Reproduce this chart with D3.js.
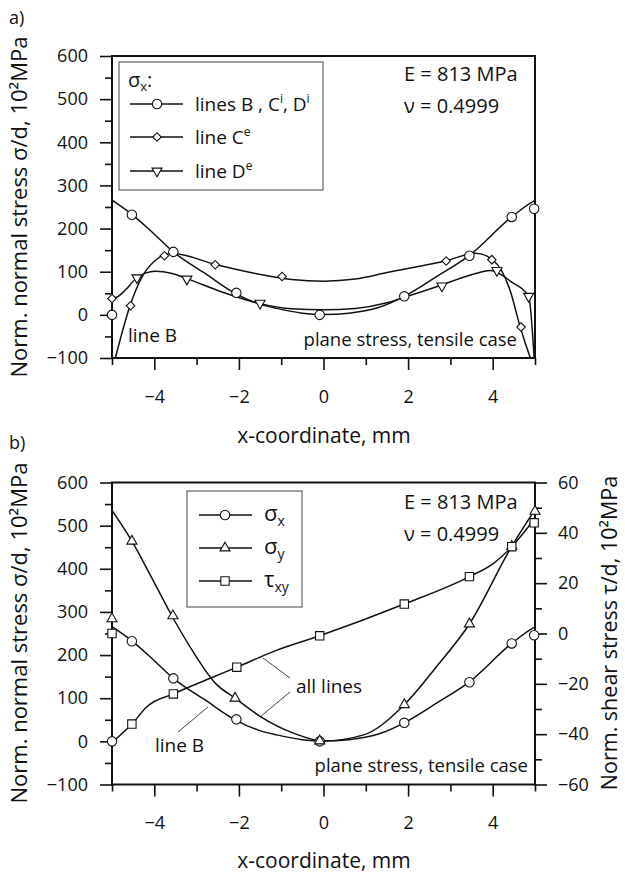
<!DOCTYPE html>
<html>
<head>
<meta charset="utf-8">
<script src="https://cdn.jsdelivr.net/npm/d3@7"></script>
<style>
  body { margin: 0; background: #fff; }
  text { font-family: "Open Sans", "DejaVu Sans", sans-serif; fill: #111; }
</style>
</head>
<body>
<script>
// ---- data ----
const xMajor = [-4, -2, 0, 2, 4];
const xMinor = [-5, -3, -1, 1, 3, 5];
const yMajor = [-100, 0, 100, 200, 300, 400, 500, 600];
const yMinor = [-50, 50, 150, 250, 350, 450, 550];
const tauMajor = [-60, -40, -20, 0, 20, 40, 60];
const tauMinor = [-50, -30, -10, 10, 30, 50];

// line B (sigma_x), used in both panels
const curveB = [[-5, 266], [-4.53, 233], [-4.0, 187], [-3.55, 146], [-2.8, 96], [-2.09, 50], [-1.54, 26],
  [-1.1, 15], [-0.5, 4], [0, 1], [0.6, 4], [1.3, 17], [1.91, 43], [2.68, 89], [3.45, 138], [4.45, 227], [4.96, 263], [5, 265]];
// line C^e
const curveCe = [[-4.92, -100], [-4.57, 22], [-4.29, 88], [-3.98, 126], [-3.6, 143], [-2.56, 117], [-1.61, 96],
  [-0.75, 82], [0, 78], [0.75, 83], [1.5, 98], [2.92, 126], [3.6, 143], [4.02, 126], [4.41, 57], [4.65, -28], [4.89, -100]];
// line D^e
const curveDe = [[-5, 38], [-4.85, 43], [-4.69, 57], [-4.41, 86], [-3.98, 101], [-3.58, 96], [-3.23, 84], [-2.4, 53],
  [-1.5, 26], [-0.75, 14], [0, 12], [0.75, 15], [1.5, 28], [1.89, 40], [2.76, 68], [3.4, 90], [3.95, 103], [4.45, 76], [4.85, 43], [4.98, -100]];
// panel b curves
const curveSy = [[-5, 535], [-4.53, 464], [-4.06, 379], [-3.58, 290], [-3.11, 212], [-2.56, 135], [-2.09, 100],
  [-1.5, 58], [-0.71, 19], [0, 1], [0.95, 15], [1.91, 85], [2.68, 174], [3.45, 272], [4.45, 452], [5, 537]];
const curveTau = [[-5, -43.3], [-4.53, -36], [-4.17, -29], [-3.55, -24], [-2.68, -17.8], [-2.05, -13.4], [-1.1, -6.6],
  [-0.09, -0.9], [1.91, 11.7], [3.45, 22.6], [4.02, 27.9], [4.45, 34.5], [5, 45.8]];

// markers
const marksSx = [[-5, 0], [-4.53, 232], [-3.55, 146], [-2.06, 51], [-0.09, 0], [1.91, 43], [3.45, 137], [4.45, 227], [4.98, 246]];
const marksCe = [[-5, 38], [-4.56, 21], [-3.76, 137], [-2.56, 116], [-0.98, 89], [2.9, 125], [3.98, 128], [4.67, -28]];
const marksDe = [[-4.41, 86], [-3.23, 83], [-1.5, 27], [2.8, 67], [4.1, 103], [4.85, 43]];
const marksSy = [[-5, 284], [-4.53, 464], [-3.56, 291], [-2.09, 100], [-0.09, 1], [1.91, 85], [3.45, 272], [4.45, 452], [5.0, 533]];
const marksTau = [[-5, 0], [-4.53, -36], [-3.55, -24], [-2.05, -13.4], [-0.09, -0.9], [1.91, 11.7], [3.45, 22.6], [4.45, 34.5], [4.98, 44]];

const W = 625, H = 876;
const svg = d3.select("body").append("svg").attr("width", W).attr("height", H);

const x = d3.scaleLinear().domain([-5, 5]).range([112, 535]);
const yA = d3.scaleLinear().domain([-100, 600]).range([358, 56]);
const yB = d3.scaleLinear().domain([-100, 600]).range([784.5, 482.5]);
const tB = d3.scaleLinear().domain([-60, 60]).range([784.5, 482.5]);

const sym = {
  circle: d3.symbol().type(d3.symbolCircle).size(70),
  diamond: d3.symbol().type(d3.symbolSquare).size(36),
  triDown: d3.symbol().type(d3.symbolTriangle).size(44),
  triUp: d3.symbol().type(d3.symbolTriangle).size(44),
  square: d3.symbol().type(d3.symbolSquare).size(70)
};
const rot = { diamond: 45, triDown: 180 };

function marker(g, type, px, py) {
  g.append("path")
    .attr("d", sym[type]())
    .attr("transform", `translate(${px},${py}) rotate(${rot[type] || 0})`)
    .attr("fill", "#fff").attr("stroke", "#111").attr("stroke-width", 1.1);
}

function axes(g, y, id, withRight) {
  const [y0, y1] = y.range();
  g.append("clipPath").attr("id", id).append("rect")
    .attr("x", x.range()[0]).attr("y", y1).attr("width", x.range()[1] - x.range()[0]).attr("height", y0 - y1);

  const ax = g.append("g").attr("transform", `translate(0,${y0})`);
  ax.call(d3.axisBottom(x).tickValues(xMajor).tickSize(12).tickPadding(20).tickFormat(d3.format("")));
  ax.append("g").call(d3.axisBottom(x).tickValues(xMinor).tickSize(7).tickFormat(""));

  const ay = g.append("g").attr("transform", `translate(${x.range()[0]},0)`);
  ay.call(d3.axisLeft(y).tickValues(yMajor).tickSize(12).tickPadding(12));
  ay.append("g").call(d3.axisLeft(y).tickValues(yMinor).tickSize(7).tickFormat(""));

  if (withRight) {
    const ar = g.append("g").attr("transform", `translate(${x.range()[1]},0)`);
    ar.call(d3.axisRight(tB).tickValues(tauMajor).tickSize(12).tickPadding(11));
    ar.append("g").call(d3.axisRight(tB).tickValues(tauMinor).tickSize(7).tickFormat(""));
  }
  g.selectAll(".domain").remove();
  g.selectAll(".tick line").attr("stroke", "#111").attr("stroke-width", 1.6);
  g.selectAll(".tick text").attr("font-size", 18).style("font-family", '"Open Sans", sans-serif').attr("fill", "#111");

  g.append("rect")
    .attr("x", x.range()[0]).attr("y", y1)
    .attr("width", x.range()[1] - x.range()[0]).attr("height", y0 - y1)
    .attr("fill", "none").attr("stroke", "#111").attr("stroke-width", 2);
}

function curve(g, data, y, id) {
  g.append("path").datum(data)
    .attr("clip-path", `url(#${id})`)
    .attr("fill", "none").attr("stroke", "#111").attr("stroke-width", 1.5)
    .attr("d", d3.line().x(d => x(d[0])).y(d => y(d[1])).curve(d3.curveMonotoneX));
}

function label(g, str, px, py, size, anchor) {
  return g.append("text").attr("x", px).attr("y", py).attr("font-size", size)
    .attr("text-anchor", anchor || "start").text(str);
}

// ===== panel a =====
const ga = svg.append("g");
axes(ga, yA, "clipA", false);
curve(ga, curveB, yA, "clipA");
curve(ga, curveCe, yA, "clipA");
curve(ga, curveDe, yA, "clipA");
marksSx.forEach(d => marker(ga, "circle", x(d[0]), yA(d[1])));
marksCe.forEach(d => marker(ga, "diamond", x(d[0]), yA(d[1])));
marksDe.forEach(d => marker(ga, "triDown", x(d[0]), yA(d[1])));

label(ga, "a)", 9, 24, 18);
ga.append("text").attr("x", 324).attr("y", 443).attr("font-size", 21).attr("text-anchor", "middle").text("x-coordinate, mm");
ga.append("text").attr("transform", "translate(27,207) rotate(-90)").attr("font-size", 22)
  .attr("text-anchor", "middle").text("Norm. normal stress σ/d, 10²MPa");

// legend a
ga.append("rect").attr("x", 119).attr("y", 62).attr("width", 204).attr("height", 128)
  .attr("fill", "#fff").attr("stroke", "#444").attr("stroke-width", 1);
const lt = label(ga, "σ", 128, 87, 20);
lt.append("tspan").attr("font-size", 13).attr("dy", 4).text("x");
lt.append("tspan").attr("dy", -4).text(":");
const legA = [
  { type: "circle", y: 104, parts: [["lines B , C", 0], ["i", 1], [", D", 0], ["i", 1]] },
  { type: "diamond", y: 137, parts: [["line C", 0], ["e", 1]] },
  { type: "triDown", y: 171, parts: [["line D", 0], ["e", 1]] }
];
legA.forEach(e => {
  ga.append("line").attr("x1", 130).attr("x2", 183).attr("y1", e.y).attr("y2", e.y).attr("stroke", "#111").attr("stroke-width", 1.5);
  marker(ga, e.type, 157, e.y);
  const t = ga.append("text").attr("x", 195).attr("y", e.y + 7).attr("font-size", 19);
  let up = false;
  e.parts.forEach(p => {
    const ts = t.append("tspan").text(p[0]);
    if (p[1] && !up) { ts.attr("font-size", 12).attr("dy", -8); up = true; }
    else if (!p[1] && up) { ts.attr("dy", 8); up = false; }
  });
});
label(ga, "E = 813 MPa", 404, 81, 20);
label(ga, "ν = 0.4999", 404, 113, 20);
label(ga, "line B", 128, 342, 19);
label(ga, "plane stress, tensile case", 517, 346, 18.5, "end");

// ===== panel b =====
const gb = svg.append("g");
axes(gb, yB, "clipB", true);
curve(gb, curveB, yB, "clipB");
curve(gb, curveSy, yB, "clipB");
curve(gb, curveTau, tB, "clipB");
marksSx.forEach(d => marker(gb, "circle", x(d[0]), yB(d[1])));
marksSy.forEach(d => marker(gb, "triUp", x(d[0]), yB(d[1])));
marksTau.forEach(d => marker(gb, "square", x(d[0]), tB(d[1])));

label(gb, "b)", 9, 449, 18);
gb.append("text").attr("x", 324).attr("y", 868).attr("font-size", 21).attr("text-anchor", "middle").text("x-coordinate, mm");
gb.append("text").attr("transform", "translate(27,633) rotate(-90)").attr("font-size", 22)
  .attr("text-anchor", "middle").text("Norm. normal stress σ/d, 10²MPa");
gb.append("text").attr("transform", "translate(617,633) rotate(-90)").attr("font-size", 21.5)
  .attr("text-anchor", "middle").text("Norm. shear stress τ/d, 10²MPa");

gb.append("rect").attr("x", 187).attr("y", 491).attr("width", 115).attr("height", 116)
  .attr("fill", "#fff").attr("stroke", "#444").attr("stroke-width", 1);
const legB = [
  { type: "circle", y: 515, sym: "σ", sub: "x" },
  { type: "triUp", y: 548, sym: "σ", sub: "y" },
  { type: "square", y: 581, sym: "τ", sub: "xy" }
];
legB.forEach(e => {
  gb.append("line").attr("x1", 199).attr("x2", 252).attr("y1", e.y).attr("y2", e.y).attr("stroke", "#111").attr("stroke-width", 1.5);
  marker(gb, e.type, 225, e.y);
  const t = gb.append("text").attr("x", 264).attr("y", e.y + 6).attr("font-size", 22).text(e.sym);
  t.append("tspan").attr("font-size", 14).attr("dy", 5).text(e.sub);
});
label(gb, "E = 813 MPa", 404, 509, 20);
label(gb, "ν = 0.4999", 404, 541, 20);
label(gb, "all lines", 296, 693, 19);
label(gb, "line B", 155, 752, 19);
label(gb, "plane stress, tensile case", 528, 772, 18.5, "end");
// leader lines
[[290, 678, 263, 658], [290, 692, 260, 717], [178, 732, 208, 707]].forEach(l => {
  gb.append("line").attr("x1", l[0]).attr("y1", l[1]).attr("x2", l[2]).attr("y2", l[3])
    .attr("stroke", "#111").attr("stroke-width", 0.8);
});
</script>
</body>
</html>
